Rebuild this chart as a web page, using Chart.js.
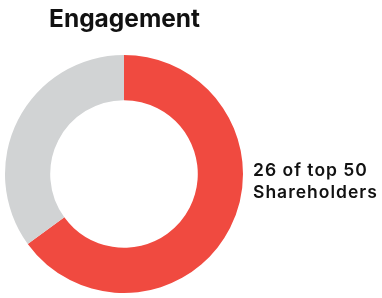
<!DOCTYPE html>
<html>
<head>
<meta charset="utf-8">
<script src="https://cdn.jsdelivr.net/npm/chart.js@4"></script>
<style>
  html, body { margin: 0; padding: 0; background: #fff; }
  #wrap { position: relative; width: 382px; height: 298px; overflow: hidden; }
  #wrap canvas { position: absolute; left: 0; top: 0; }
  .txt { position: absolute; font-family: Inter, "Noto Sans", sans-serif; color: #111; white-space: nowrap; }
  #title { left: 49px; top: 3px; font-size: 24.5px; font-weight: 700; letter-spacing: 0; }
  #note { left: 253px; top: 159px; font-size: 17.5px; font-weight: 600; line-height: 22px; letter-spacing: 1px; }
</style>
</head>
<body>
<div id="wrap">
  <canvas id="engChart" width="382" height="298"></canvas>
  <div class="txt" id="title">Engagement</div>
  <div class="txt" id="note">26 of top 50<br>Shareholders</div>
</div>
<script>
// engagement split as drawn
const segLabels = ['Engaged', 'Not engaged'];
const segValues = [26, 14];
const segColors = ['#F04A40', '#D1D3D4'];

new Chart(document.getElementById('engChart'), {
  type: 'doughnut',
  data: { labels: segLabels, datasets: [{ data: segValues, backgroundColor: segColors, borderWidth: 0 }] },
  options: {
    responsive: false, animation: false, cutout: '62%',
    layout: { padding: { left: 5, top: 55, right: 139, bottom: 5 } },
    plugins: { legend: { display: false }, tooltip: { enabled: false } }
  }
});
</script>
</body>
</html>
